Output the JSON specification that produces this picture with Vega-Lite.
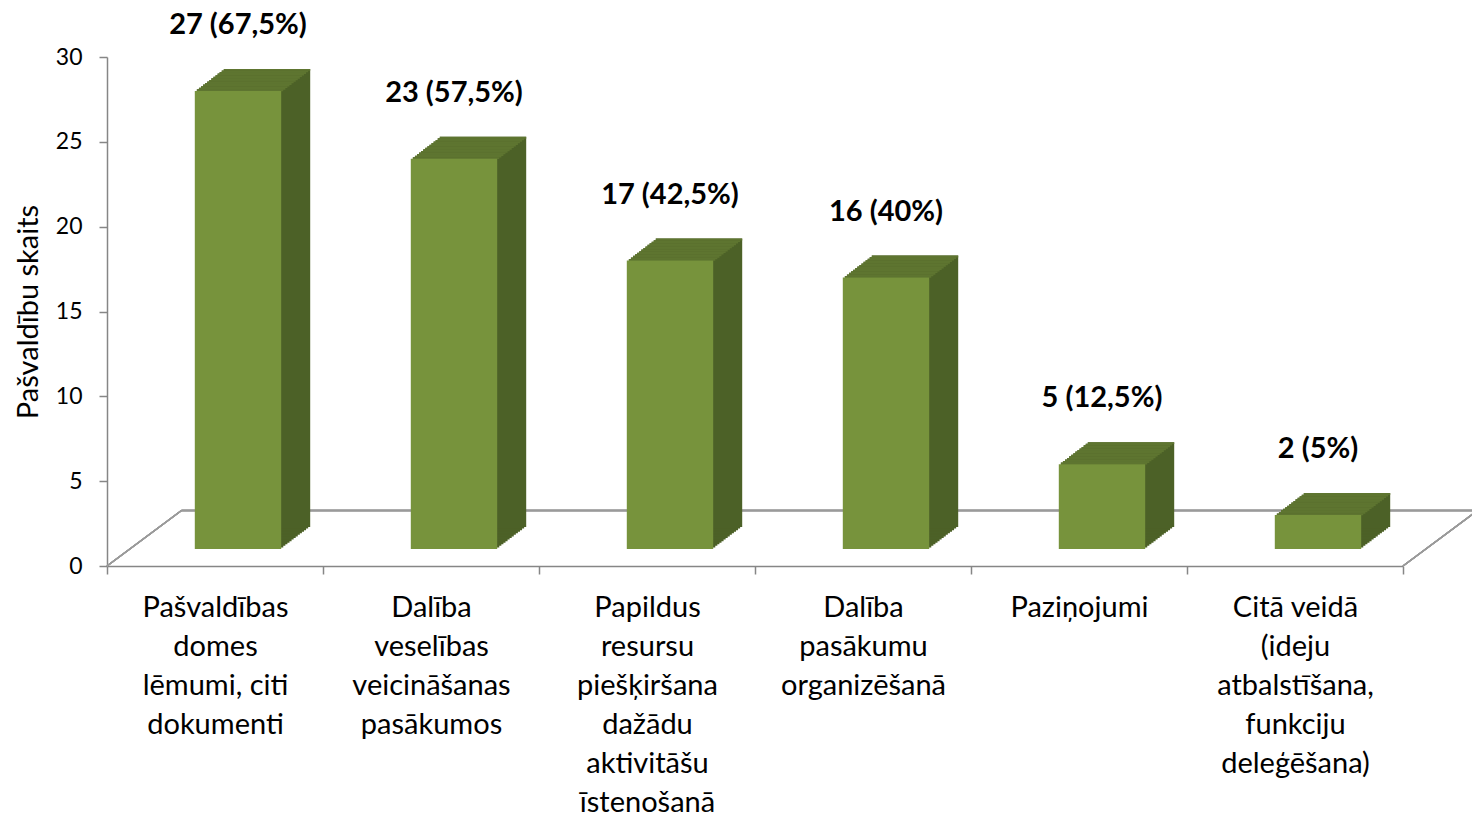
{
"$schema":"https://vega.github.io/schema/vega-lite/v6.json",
"width":1296,"height":509,
"autosize":{"type":"none"},
"padding":{"left":107,"top":57,"right":69,"bottom":248},
"background":"white",
"config":{"view":{"stroke":null},"font":"Lato"},
"data":{"values":[
{"cat":"Pašvaldības domes lēmumi, citi dokumenti","value":27,"label":"27 (67,5%)"},
{"cat":"Dalība veselības veicināšanas pasākumos","value":23,"label":"23 (57,5%)"},
{"cat":"Papildus resursu piešķiršana dažādu aktivitāšu īstenošanā","value":17,"label":"17 (42,5%)"},
{"cat":"Dalība pasākumu organizēšanā","value":16,"label":"16 (40%)"},
{"cat":"Paziņojumi","value":5,"label":"5 (12,5%)"},
{"cat":"Citā veidā (ideju atbalstīšana, funkciju deleģēšana)","value":2,"label":"2 (5%)"}
]},
"encoding":{
"x":{"field":"cat","type":"nominal","sort":null,"scale":{"paddingInner":0,"paddingOuter":0},
"axis":{"title":null,"tickBand":"extent","labelAngle":0,"tickSize":8,"tickWidth":1.5,"tickColor":"#868686","domainColor":"#868686","domainWidth":1.5,"labelFont":"Lato","labelFontSize":29,"labelColor":"black","labelLineHeight":39,"labelPadding":19,"labelBaseline":"top","labelLimit":0,
"labelExpr":"datum.value == 'Pašvaldības domes lēmumi, citi dokumenti' ? ['Pašvaldības','domes','lēmumi, citi','dokumenti'] : datum.value == 'Dalība veselības veicināšanas pasākumos' ? ['Dalība','veselības','veicināšanas','pasākumos'] : datum.value == 'Papildus resursu piešķiršana dažādu aktivitāšu īstenošanā' ? ['Papildus','resursu','piešķiršana','dažādu','aktivitāšu','īstenošanā'] : datum.value == 'Dalība pasākumu organizēšanā' ? ['Dalība','pasākumu','organizēšanā'] : datum.value == 'Paziņojumi' ? ['Paziņojumi'] : datum.value == 'Citā veidā (ideju atbalstīšana, funkciju deleģēšana)' ? ['Citā veidā','(ideju','atbalstīšana,','funkciju','deleģēšana)'] : ''"}},
"y":{"field":"value","type":"quantitative","scale":{"domain":[0,30],"nice":false},
"axis":{"title":"Pašvaldību skaits","values":[0,5,10,15,20,25,30],"grid":false,"tickSize":8,"tickWidth":1.5,"tickColor":"#868686","domainColor":"#868686","domainWidth":1.5,"labelFont":"Lato","labelFontSize":23,"labelColor":"black","labelPadding":17,"titleFont":"Lato","titleFontSize":29,"titleFontWeight":"normal","titleColor":"black","titlePadding":12}}
},
"layer":[
{"mark":{"type":"rule","color":"#9a9a9a","strokeWidth":1.5,"yOffset":-55.5,"xOffset":74.5,"x2Offset":74.5},"encoding":{"x":{"value":0},"x2":{"value":1296},"y":{"datum":0}}},
{"mark":{"type":"rule","color":"#9a9a9a","strokeWidth":1.5,"y2Offset":-55.5,"x2Offset":74.5},"encoding":{"x":{"value":0},"x2":{"value":0},"y":{"datum":0},"y2":{"datum":0}}},
{"mark":{"type":"rule","color":"#9a9a9a","strokeWidth":1.5,"y2Offset":-55.5,"x2Offset":74.5},"encoding":{"x":{"value":1296},"x2":{"value":1296},"y":{"datum":0},"y2":{"datum":0}}},
{"mark":{"type":"bar","color":"#4C6127","width":{"band":0.4},"xOffset":25.07,"yOffset":-18.57,"y2Offset":-18.57},"encoding":{"y2":{"datum":0}}},
{"mark":{"type":"bar","color":"#4C6127","width":{"band":0.4},"xOffset":27.14,"yOffset":-20.14,"y2Offset":-20.14},"encoding":{"y2":{"datum":0}}},
{"mark":{"type":"bar","color":"#4C6127","width":{"band":0.4},"xOffset":29.21,"yOffset":-21.71,"y2Offset":-21.71},"encoding":{"y2":{"datum":0}}},
{"mark":{"type":"bar","color":"#4C6127","width":{"band":0.4},"xOffset":31.29,"yOffset":-23.29,"y2Offset":-23.29},"encoding":{"y2":{"datum":0}}},
{"mark":{"type":"bar","color":"#4C6127","width":{"band":0.4},"xOffset":33.36,"yOffset":-24.86,"y2Offset":-24.86},"encoding":{"y2":{"datum":0}}},
{"mark":{"type":"bar","color":"#4C6127","width":{"band":0.4},"xOffset":35.43,"yOffset":-26.43,"y2Offset":-26.43},"encoding":{"y2":{"datum":0}}},
{"mark":{"type":"bar","color":"#4C6127","width":{"band":0.4},"xOffset":37.5,"yOffset":-28,"y2Offset":-28},"encoding":{"y2":{"datum":0}}},
{"mark":{"type":"bar","color":"#4C6127","width":{"band":0.4},"xOffset":39.57,"yOffset":-29.57,"y2Offset":-29.57},"encoding":{"y2":{"datum":0}}},
{"mark":{"type":"bar","color":"#4C6127","width":{"band":0.4},"xOffset":41.64,"yOffset":-31.14,"y2Offset":-31.14},"encoding":{"y2":{"datum":0}}},
{"mark":{"type":"bar","color":"#4C6127","width":{"band":0.4},"xOffset":43.71,"yOffset":-32.71,"y2Offset":-32.71},"encoding":{"y2":{"datum":0}}},
{"mark":{"type":"bar","color":"#4C6127","width":{"band":0.4},"xOffset":45.79,"yOffset":-34.29,"y2Offset":-34.29},"encoding":{"y2":{"datum":0}}},
{"mark":{"type":"bar","color":"#4C6127","width":{"band":0.4},"xOffset":47.86,"yOffset":-35.86,"y2Offset":-35.86},"encoding":{"y2":{"datum":0}}},
{"mark":{"type":"bar","color":"#4C6127","width":{"band":0.4},"xOffset":49.93,"yOffset":-37.43,"y2Offset":-37.43},"encoding":{"y2":{"datum":0}}},
{"mark":{"type":"bar","color":"#4C6127","width":{"band":0.4},"xOffset":52,"yOffset":-39,"y2Offset":-39},"encoding":{"y2":{"datum":0}}},
{"mark":{"type":"bar","color":"#5E7530","width":{"band":0.4},"xOffset":25.07,"yOffset":-18.57,"y2Offset":-16.7},"encoding":{"y2":{"field":"value"}}},
{"mark":{"type":"bar","color":"#5E7530","width":{"band":0.4},"xOffset":27.14,"yOffset":-20.14,"y2Offset":-18.27},"encoding":{"y2":{"field":"value"}}},
{"mark":{"type":"bar","color":"#5E7530","width":{"band":0.4},"xOffset":29.21,"yOffset":-21.71,"y2Offset":-19.84},"encoding":{"y2":{"field":"value"}}},
{"mark":{"type":"bar","color":"#5E7530","width":{"band":0.4},"xOffset":31.29,"yOffset":-23.29,"y2Offset":-21.41},"encoding":{"y2":{"field":"value"}}},
{"mark":{"type":"bar","color":"#5E7530","width":{"band":0.4},"xOffset":33.36,"yOffset":-24.86,"y2Offset":-22.99},"encoding":{"y2":{"field":"value"}}},
{"mark":{"type":"bar","color":"#5E7530","width":{"band":0.4},"xOffset":35.43,"yOffset":-26.43,"y2Offset":-24.56},"encoding":{"y2":{"field":"value"}}},
{"mark":{"type":"bar","color":"#5E7530","width":{"band":0.4},"xOffset":37.5,"yOffset":-28,"y2Offset":-26.13},"encoding":{"y2":{"field":"value"}}},
{"mark":{"type":"bar","color":"#5E7530","width":{"band":0.4},"xOffset":39.57,"yOffset":-29.57,"y2Offset":-27.7},"encoding":{"y2":{"field":"value"}}},
{"mark":{"type":"bar","color":"#5E7530","width":{"band":0.4},"xOffset":41.64,"yOffset":-31.14,"y2Offset":-29.27},"encoding":{"y2":{"field":"value"}}},
{"mark":{"type":"bar","color":"#5E7530","width":{"band":0.4},"xOffset":43.71,"yOffset":-32.71,"y2Offset":-30.84},"encoding":{"y2":{"field":"value"}}},
{"mark":{"type":"bar","color":"#5E7530","width":{"band":0.4},"xOffset":45.79,"yOffset":-34.29,"y2Offset":-32.41},"encoding":{"y2":{"field":"value"}}},
{"mark":{"type":"bar","color":"#5E7530","width":{"band":0.4},"xOffset":47.86,"yOffset":-35.86,"y2Offset":-33.99},"encoding":{"y2":{"field":"value"}}},
{"mark":{"type":"bar","color":"#5E7530","width":{"band":0.4},"xOffset":49.93,"yOffset":-37.43,"y2Offset":-35.56},"encoding":{"y2":{"field":"value"}}},
{"mark":{"type":"bar","color":"#5E7530","width":{"band":0.4},"xOffset":52,"yOffset":-39,"y2Offset":-37.13},"encoding":{"y2":{"field":"value"}}},
{"mark":{"type":"bar","color":"#77933C","width":{"band":0.4},"xOffset":23,"yOffset":-17,"y2Offset":-17},"encoding":{"y2":{"datum":0}}},
{"mark":{"type":"text","font":"Lato","fontSize":29,"fontWeight":"bold","color":"black","baseline":"alphabetic","align":"center","xOffset":23,"yOffset":-74},"encoding":{"text":{"field":"label"}}}
]
}
